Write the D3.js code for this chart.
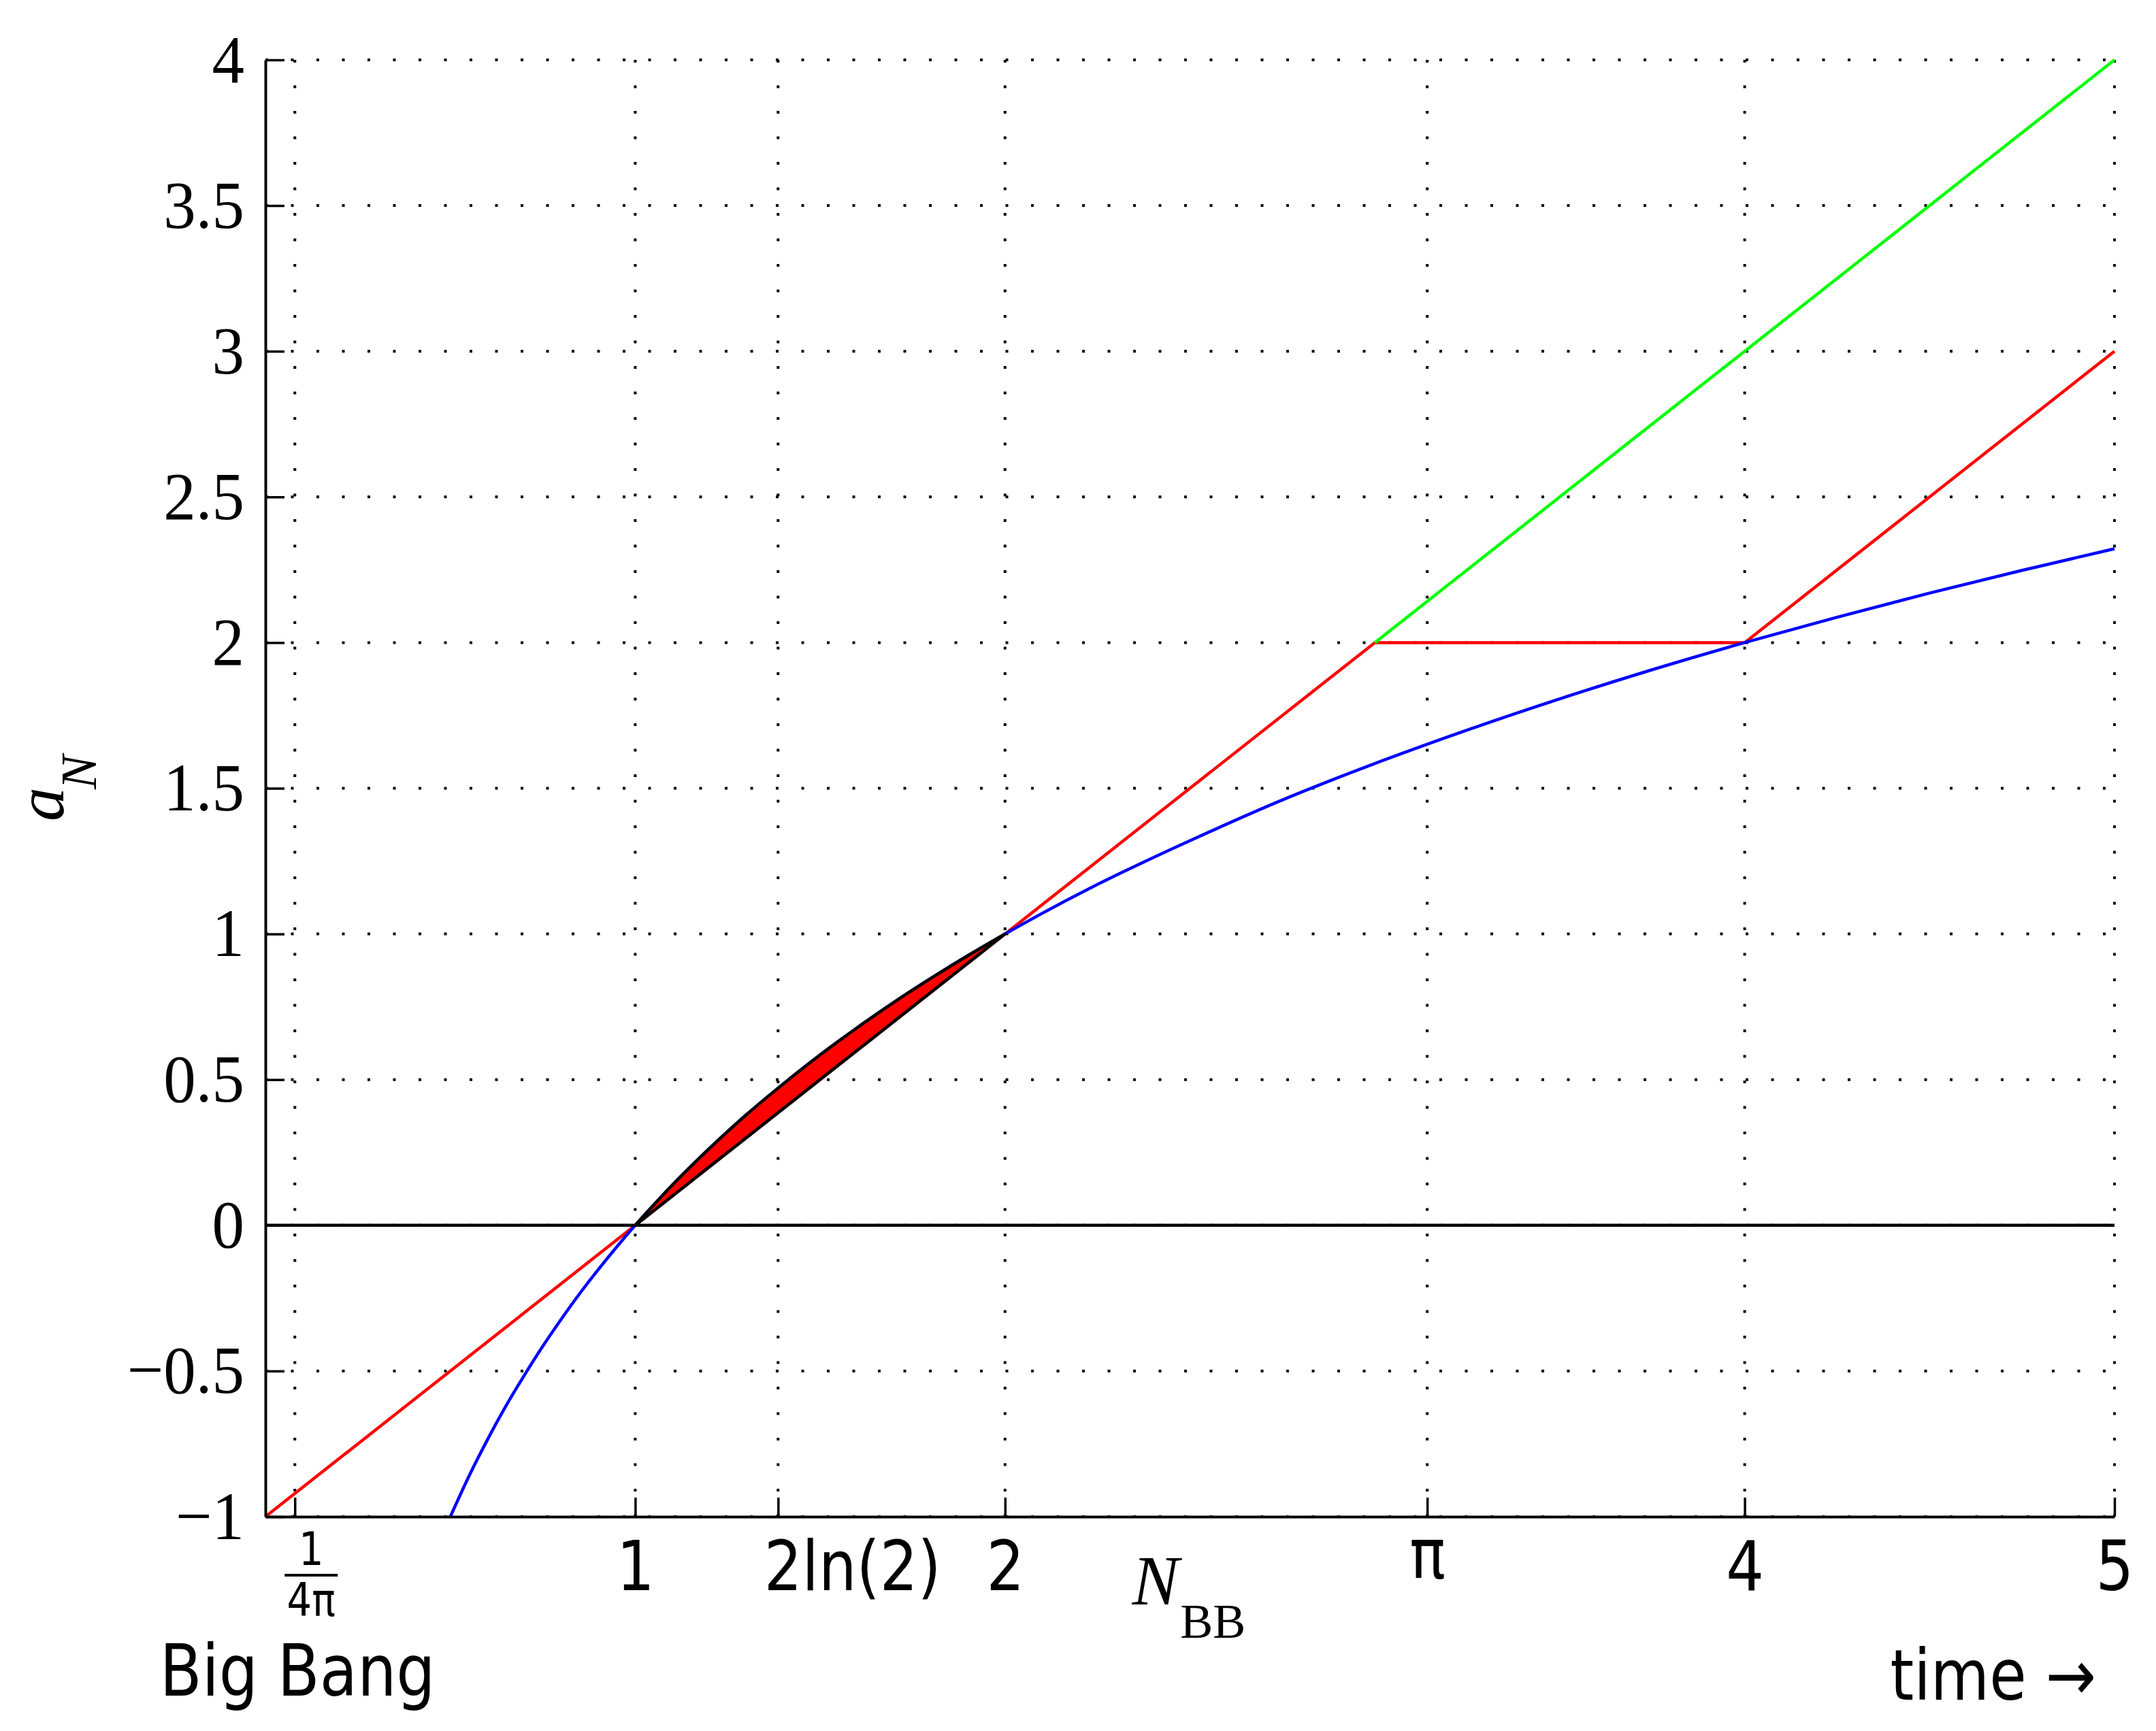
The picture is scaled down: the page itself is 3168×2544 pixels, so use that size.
<!DOCTYPE html>
<html><head><meta charset="utf-8">
<script src="https://cdn.jsdelivr.net/npm/d3@7"></script>
<style>body{margin:0;background:#fff}</style>
</head><body>
<script>
// ---- data ----
const xTickValues = [0.0796, 1, 1.3863, 2, 3.1416, 4, 5];
const xTickLabels = ["1/4π", "1", "2ln(2)", "2", "π", "4", "5"];
const yTickValues = [-1, -0.5, 0, 0.5, 1, 1.5, 2, 2.5, 3, 3.5, 4];
const yTickLabels = ["−1", "−0.5", "0", "0.5", "1", "1.5", "2", "2.5", "3", "3.5", "4"];
const redLine = [[0, -1], [3, 2], [4, 2], [5, 3]];
const greenLine = [[3, 2], [5, 4]];
const blueCurve = [[0.5, -1], [0.55, -0.862], [0.6, -0.737], [0.65, -0.621], [0.7, -0.515],
  [0.75, -0.415], [0.8, -0.322], [0.85, -0.234], [0.9, -0.152], [0.95, -0.074], [1, 0],
  [1.1, 0.138], [1.2, 0.263], [1.3, 0.379], [1.4, 0.485], [1.5, 0.585], [1.6, 0.678],
  [1.7, 0.766], [1.8, 0.848], [1.9, 0.926], [2, 1], [2.25, 1.17], [2.5, 1.32], [2.75, 1.46],
  [3, 1.585], [3.25, 1.70], [3.5, 1.807], [3.75, 1.907], [4, 2], [4.25, 2.087], [4.5, 2.17],
  [4.75, 2.248], [5, 2.322]];
const lensUpper = [[1, 0], [1.1, 0.138], [1.2, 0.263], [1.3, 0.379], [1.4, 0.485], [1.5, 0.585],
  [1.6, 0.678], [1.7, 0.766], [1.8, 0.848], [1.9, 0.926], [2, 1]];
const lensLower = [[1, 0], [2, 1]];
const zeroLine = [[0, 0], [5, 0]];
const nbbValue = 2.5;

// ---- setup ----
const W = 3168, H = 2544;
const SANS = "DejaVu Sans", SERIF = "Liberation Serif";
const SX = 0.86, SXS = 0.95;
const svg = d3.select("body").append("svg").attr("width", W).attr("height", H)
  .style("background", "#fff");
const x = d3.scaleLinear().domain([0, 5]).range([390, 3107]);
const y = d3.scaleLinear().domain([-1, 4]).range([2229, 88]);

// ---- grid ----
const grid = svg.append("g").attr("stroke", "#000").attr("stroke-width", 4)
  .attr("stroke-dasharray", "4,33.5").attr("fill", "none");
xTickValues.forEach(v => grid.append("line")
  .attr("x1", x(v)).attr("x2", x(v)).attr("y1", y(4)).attr("y2", y(-1)));
yTickValues.forEach(v => grid.append("line")
  .attr("x1", x(0)).attr("x2", x(5)).attr("y1", y(v)).attr("y2", y(v)));

const line = d3.line().x(d => x(d[0])).y(d => y(d[1]));
const curve = d3.line().x(d => x(d[0])).y(d => y(d[1])).curve(d3.curveMonotoneX);

// ---- data lines ----
svg.append("path").datum(redLine).attr("d", line).attr("fill", "none")
  .attr("stroke", "#ff0000").attr("stroke-width", 4.5).attr("stroke-linejoin", "round");
svg.append("path").datum(greenLine).attr("d", line).attr("fill", "none")
  .attr("stroke", "#00ff00").attr("stroke-width", 4.5);
svg.append("path").datum(blueCurve).attr("d", curve).attr("fill", "none")
  .attr("stroke", "#0000ff").attr("stroke-width", 4.5);
svg.append("path").datum(zeroLine).attr("d", line).attr("fill", "none")
  .attr("stroke", "#000").attr("stroke-width", 4.5);

// ---- lens ----
const lensPath = curve(lensUpper) + line(lensLower.slice().reverse()).replace(/^M/, "L") + "Z";
svg.append("path").attr("d", lensPath).attr("fill", "#ff0000")
  .attr("stroke", "#000").attr("stroke-width", 4.5).attr("stroke-linejoin", "round");

// ---- axes ----
const xAxis = d3.axisBottom(x).tickValues(xTickValues).tickSizeInner(-28).tickSizeOuter(0)
  .tickPadding(36).tickFormat((d, i) => xTickLabels[i]);
const gx = svg.append("g").attr("transform", `translate(0,${y(-1)})`).call(xAxis);
gx.select(".domain").attr("stroke-width", 4);
gx.selectAll(".tick line").attr("stroke-width", 3.5);
gx.selectAll(".tick text").attr("font-family", SANS).attr("font-size", 102).attr("fill", "#000")
  .attr("transform", (d, i) => {
    if (xTickLabels[i] === "2ln(2)") return `translate(109,0) scale(${SX},1)`;
    if (xTickLabels[i] === "π") return `translate(0,-18) scale(${SX},1)`;
    return `scale(${SX},1)`;
  })
  .filter((d, i) => i === 0).remove();

const yAxis = d3.axisLeft(y).tickValues(yTickValues).tickSizeInner(-28).tickSizeOuter(0)
  .tickPadding(31).tickFormat((d, i) => yTickLabels[i]);
const gy = svg.append("g").attr("transform", `translate(${x(0)},0)`).call(yAxis);
gy.select(".domain").attr("stroke-width", 4);
gy.selectAll(".tick line").attr("stroke-width", 3.5);
gy.selectAll(".tick text").attr("font-family", SERIF).attr("font-size", 100).attr("fill", "#000")
  .attr("x", -31 / SXS).attr("transform", `scale(${SXS},1)`);

// ---- fraction label 1/(4π) ----
const fx = x(xTickValues[0]) + 24;
const frac = svg.append("g").attr("font-family", SANS).attr("fill", "#000");
const fparts = xTickLabels[0].split("/");
frac.append("text").attr("transform", `translate(${fx},2300) scale(${SX},1)`)
  .attr("text-anchor", "middle").attr("font-size", 67).text(fparts[0]);
frac.append("line").attr("x1", fx - 39).attr("x2", fx + 39).attr("y1", 2315).attr("y2", 2315)
  .attr("stroke", "#000").attr("stroke-width", 4);
frac.append("text").attr("transform", `translate(${fx},2375) scale(${SX},1)`)
  .attr("text-anchor", "middle").attr("font-size", 67).text(fparts[1]);

// ---- Big Bang / time ----
svg.append("text").attr("transform", `translate(${x(xTickValues[0]) + 4},2492) scale(${SX},1)`)
  .attr("text-anchor", "middle").attr("font-family", SANS).attr("font-size", 105).text("Big Bang");
svg.append("text").attr("transform", `translate(3080,2498) scale(${SX},1)`)
  .attr("text-anchor", "end").attr("font-family", SANS).attr("font-size", 103).text("time →");

// ---- N_BB ----
const nb = svg.append("text").attr("font-family", SERIF)
  .attr("x", x(nbbValue) - 85).attr("y", 2358);
nb.append("tspan").attr("font-style", "italic").attr("font-size", 103).text("N");
nb.append("tspan").attr("font-size", 72).attr("dx", 2).attr("dy", 49).text("BB");

// ---- y label a_N ----
const yl = svg.append("text").attr("font-family", SERIF).attr("font-style", "italic")
  .attr("transform", "translate(93,1207) rotate(-90)");
yl.append("tspan").attr("font-size", 100).text("a");
yl.append("tspan").attr("font-size", 75).attr("dx", -3).attr("dy", 48).text("N");
</script>
</body></html>
